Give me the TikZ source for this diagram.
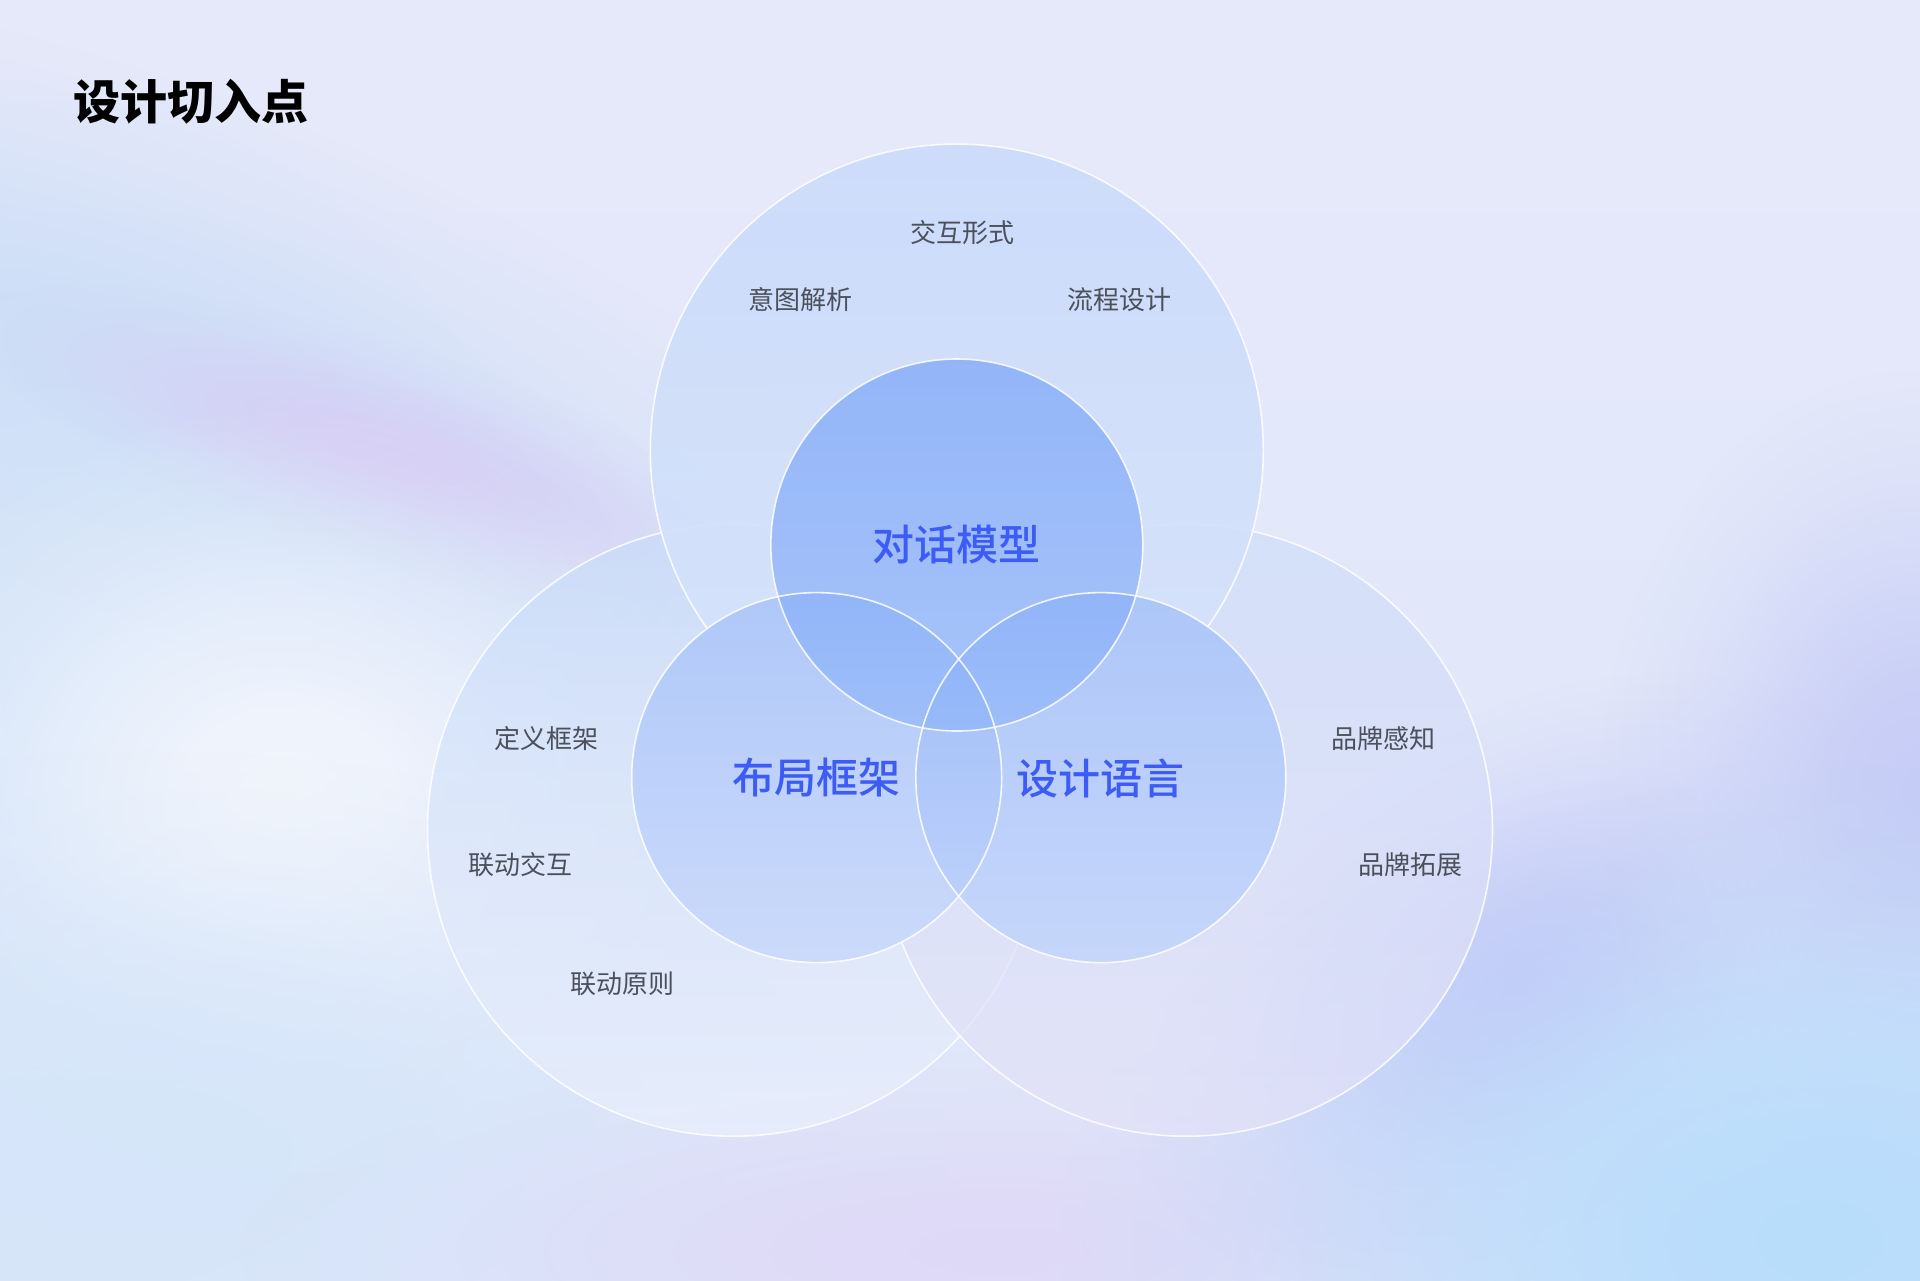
\documentclass[tikz,border=0pt]{standalone}
\usepackage{fontspec}
\setmainfont{Noto Sans CJK SC}
\newfontfamily\cjkmedium{Noto Sans CJK SC Medium}
\usetikzlibrary{fadings}

\definecolor{bgtop}{HTML}{E6E9FA}
\definecolor{bgbot}{HTML}{DEE6FA}
\definecolor{bandblue}{HTML}{C9DCF7}
\definecolor{sideblue}{HTML}{D4E4F9}
\definecolor{streak}{HTML}{D6CEF5}
\definecolor{glow}{HTML}{F2F6FD}
\definecolor{lowblue}{HTML}{D6E6FA}
\definecolor{lowpink}{HTML}{DFD9F7}
\definecolor{violet}{HTML}{C6C9F7}
\definecolor{edgeviolet}{HTML}{C6CCF6}
\definecolor{cyanblue}{HTML}{B7DDFC}
\definecolor{leftouttop}{HTML}{C9DBF9}
\definecolor{leftoutbot}{HTML}{EAF0FC}
\definecolor{rightouttop}{HTML}{CFDDF9}
\definecolor{rightoutbot}{HTML}{E4E2F8}
\definecolor{topouttop}{HTML}{CADBFA}
\definecolor{topoutbot}{HTML}{D8E4FB}
\definecolor{innerbase}{HTML}{D2DFFA}
\definecolor{leftintop}{HTML}{8EB2F9}
\definecolor{leftinbot}{HTML}{C6D7FA}
\definecolor{rightintop}{HTML}{8AAFF9}
\definecolor{rightinbot}{HTML}{BBCFFA}
\definecolor{topintop}{HTML}{6A9AF8}
\definecolor{topinbot}{HTML}{8DB4FA}
\definecolor{labelgray}{HTML}{4B505C}
\definecolor{labelblue}{HTML}{3D5BF5}

\pgfdeclareradialshading{softshade}{\pgfpointorigin}{color(0bp)=(white); color(6bp)=(white!85!black); color(12bp)=(white!55!black); color(18bp)=(white!22!black); color(25bp)=(black); color(50bp)=(black)}
\pgfdeclarefading{softblob}{\pgfuseshading{softshade}}

\begin{document}
\begin{tikzpicture}[x=0.5pt,y=-0.5pt,
  blob/.style={fill=#1, path fading=softblob},
  ring/.style={draw=white, draw opacity=0.85, line width=0.8pt},
  item/.style={inner sep=0.75pt, text=labelgray, font=\fontsize{13}{15}\selectfont},
  core/.style={inner sep=0.75pt, text=labelblue, font=\cjkmedium\fontsize{21}{24}\selectfont}]
\useasboundingbox (0,0) rectangle (1920,1280);

% Background
\shade[top color=bgtop, bottom color=bgbot] (0,0) rectangle (1920,1280);
\begin{scope}[transform canvas={rotate around={-20:(120,400)}}]
\fill[blob=bandblue] (120,400) ellipse (900 and 320);
\end{scope}
\fill[blob=sideblue] (60,700) ellipse (500 and 600);
\begin{scope}[transform canvas={rotate around={-18:(390,455)}}]
\fill[blob=streak] (390,455) ellipse (440 and 110);
\end{scope}
\fill[blob=glow] (280,800) ellipse (460 and 400);
\fill[blob=lowblue] (150,1150) ellipse (800 and 400);
\fill[blob=lowpink] (1000,1250) ellipse (760 and 200);
\begin{scope}[transform canvas={rotate around={30:(1520,980)}}]
\fill[blob=violet] (1520,980) ellipse (420 and 260);
\end{scope}
\fill[blob=edgeviolet] (1920,790) ellipse (320 and 420);
\fill[blob=cyanblue] (1820,1240) ellipse (760 and 480);

% Outer circles
\shade[top color=leftouttop, bottom color=leftoutbot, fill opacity=0.75] (733.5,830.2) circle (306);
\draw[ring] (733.5,830.2) circle (306);
\shade[top color=rightouttop, bottom color=rightoutbot, fill opacity=0.7] (1186.5,830.2) circle (306);
\draw[ring] (1186.5,830.2) circle (306);
\shade[top color=topouttop, bottom color=topoutbot, fill opacity=0.92] (956.8,450.6) circle (306.5);
\draw[ring] (956.8,450.6) circle (306.5);

% Inner circles
\fill[innerbase] (816.7,777.6) circle (185) (1100.8,777.6) circle (185) (956.8,545) circle (186);
\shade[top color=leftintop, bottom color=leftinbot, fill opacity=0.5] (816.7,777.6) circle (185);
\shade[top color=rightintop, bottom color=rightinbot, fill opacity=0.5] (1100.8,777.6) circle (185);
\shade[top color=topintop, bottom color=topinbot, fill opacity=0.6] (956.8,545) circle (186);
\draw[ring] (816.7,777.6) circle (185);
\draw[ring] (1100.8,777.6) circle (185);
\draw[ring] (956.8,545) circle (186);

% Title
\node (title) [anchor=west, inner sep=0pt, font=\bfseries\fontsize{23.5}{27}\selectfont] at (73.5,101.6) {设计切入点};

% Core labels
\node (dialog) [core] at (956.8,545) {对话模型};
\node (layout) [core] at (816.7,778) {布局框架};
\node (lang) [core] at (1100.8,778) {设计语言};

% Item labels
\node (form) [item] at (962.5,232.7) {交互形式};
\node (intent) [item] at (800.8,300) {意图解析};
\node (flow) [item] at (1119.2,300) {流程设计};
\node (define) [item] at (546.1,738.4) {定义框架};
\node (linkact) [item] at (520.4,864.5) {联动交互};
\node (linkrule) [item] at (622,983.3) {联动原则};
\node (brandsense) [item] at (1383.7,738.4) {品牌感知};
\node (brandext) [item] at (1410.6,864.5) {品牌拓展};

\end{tikzpicture}
\end{document}
